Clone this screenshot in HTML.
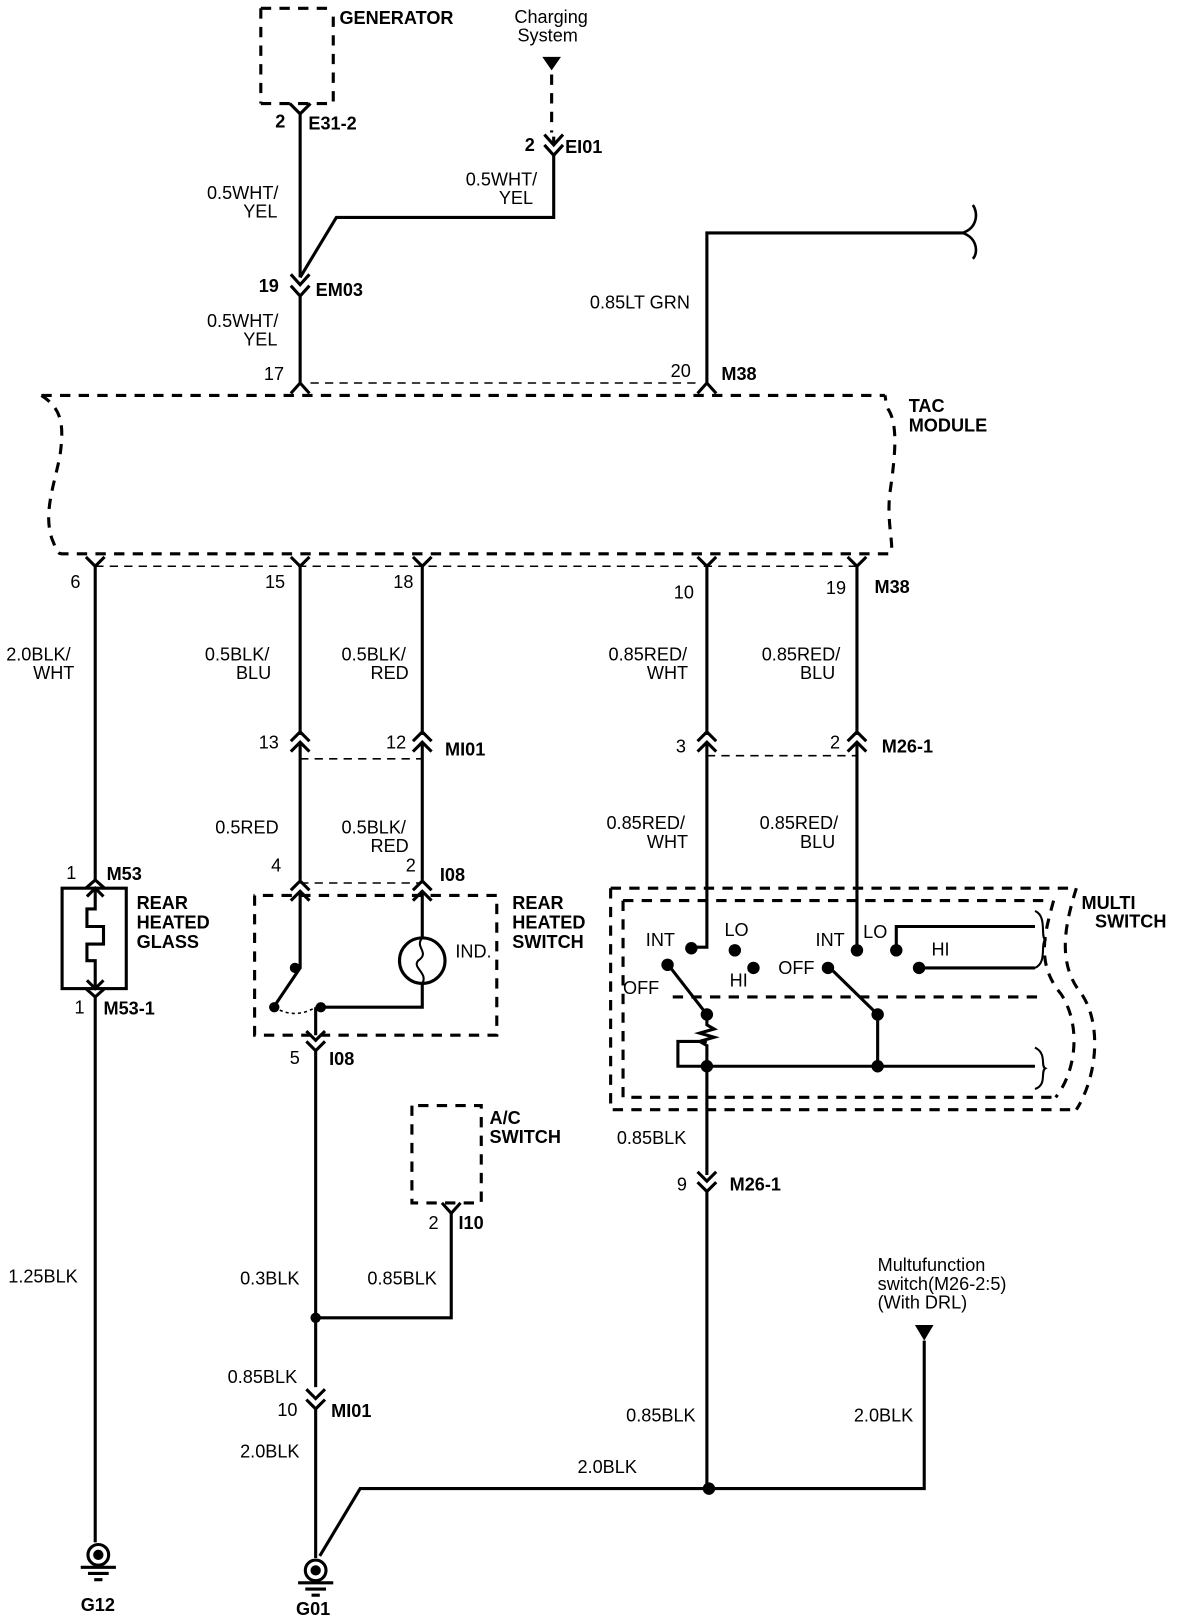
<!DOCTYPE html>
<html><head><meta charset="utf-8"><style>
html,body{margin:0;padding:0;background:#fff}
svg{display:block}
text{font-family:"Liberation Sans",sans-serif;font-size:17.5px;fill:#000}
.b{font-weight:bold}
</style></head><body>
<svg width="1184" height="1618" viewBox="0 0 1144 1563" preserveAspectRatio="none" xmlns="http://www.w3.org/2000/svg">
<g fill="none" stroke="#000" stroke-width="3">
<path d="M252 8V100M252 100H322V8M252 8H322" stroke-dasharray="10,8"/>
<path d="M280 100L290 110L300 100M290 110V268"/>
<path d="M533 72V128" stroke-dasharray="10,8"/>
<path d="M526 130L535 140L544 130M526 140L535 150L544 140M535 132V140M535 150V210H325L290 268"/>
<path d="M281 265L290 275L299 265M281 276L290 286L299 276M290 286V370"/>
<path d="M281 380L290 370L299 380M674 380L683 370L692 380"/>
<path d="M683 370V225H930"/>
<path d="M930 225C945 220 945 205 940 198M930 225C945 230 945 245 940 250" stroke-width="2.5"/>
<path d="M40 382H855" stroke-dasharray="10,8"/>
<path d="M300 370H674" stroke-width="1.5" stroke-dasharray="8,6"/>
<path d="M40 382C60 395 62 410 58 440C52 470 42 495 50 520C55 532 55 535 60 535H860C865 530 856 505 860 475C865 440 868 410 858 395C855 388 856 384 855 382" stroke-dasharray="10,8"/>
<path d="M92 547H828" stroke-width="1.5" stroke-dasharray="8,6"/>
<path d="M83 538L92 547L101 538M281 538L290 547L299 538M399 538L408 547L417 538M674 538L683 547L692 538M819 538L828 547L837 538"/>
<path d="M92 547V850M83 858L92 850L101 858M92 962V1490"/>
<rect x="60" y="858" width="62" height="97"/>
<path d="M84 866L92 858L100 866M92 858V878H84V895H100V912H84V928H92V955M84 947L92 955L100 947M83 955L92 963L101 955"/>
<path d="M290 547V710M281 716L290 707L299 716M281 726L290 717L299 726M290 717V850M281 860L290 851L299 860M281 870L290 861L299 870M290 861V935L265 972"/>
<path d="M408 547V710M399 716L408 707L417 716M399 726L408 717L417 726M408 717V850M399 860L408 851L417 860M399 870L408 861L417 870M408 861V906M408 950V973H305"/>
<path d="M290 733H408M290 853H408M683 730H828" stroke-width="1.5" stroke-dasharray="8,6"/>
<circle cx="408" cy="928" r="22"/>
<path d="M408 906C400 915 416 920 404 928C398 935 414 940 408 950" stroke-width="2"/>
<path d="M265 973Q285 985 305 973" stroke-width="1.5" stroke-dasharray="3,3"/>
<path d="M246 865V1000H480V865H245" stroke-dasharray="10,8"/>
<path d="M305 973V1000M296 996L305 1005L314 996M296 1006L305 1015L314 1006M305 1015V1340"/>
<path d="M305 1273H436V1172M427 1162L436 1172L445 1162"/>
<path d="M398 1068V1162H465V1068H398" stroke-dasharray="10,8"/>
<path d="M296 1342L305 1351L314 1342M296 1352L305 1361L314 1352M305 1361V1505M309 1503L348 1438H893V1295"/>
<path d="M683 547V710M674 716L683 707L692 716M674 726L683 717L692 726M683 717V915H670"/>
<path d="M828 547V710M819 716L828 707L837 716M819 726L828 717L837 726M828 717V918"/>
<path d="M590 858H1040M590 858V1072H1040" stroke-dasharray="10,8"/>
<path d="M1040 858C1030 890 1020 930 1045 960C1065 990 1060 1040 1040 1072" stroke-dasharray="10,8"/>
<path d="M602 870H1010M602 870V1060H1020M650 963H1005" stroke-dasharray="10,8"/>
<path d="M1018 870C1010 900 1000 930 1025 960C1045 990 1040 1035 1020 1060" stroke-dasharray="10,8"/>
<path d="M648 935L683 980V990L690 994L676 998L690 1002L676 1006L683 1010V1135M683 1006H655V1030H683"/>
<path d="M805 938L848 980V1030M683 1030H1000"/>
<path d="M866 918V895H1000M888 935H1000"/>
<path d="M1000 880C1012 885 1005 905 1010 908C1005 912 1012 930 1000 935M1000 1012C1012 1018 1005 1030 1010 1032C1005 1035 1012 1048 1000 1052" stroke-width="2"/>
<path d="M674 1132L683 1141L692 1132M674 1142L683 1151L692 1142M683 1151V1438"/>
</g>
<g fill="#000">
<path d="M524 55H542L533 68Z"/><path d="M884 1280H902L893 1295Z"/>
<circle cx="285" cy="935" r="5"/><circle cx="265" cy="973" r="5"/><circle cx="310" cy="973" r="5"/>
<circle cx="305" cy="1273" r="5"/><circle cx="685" cy="1438" r="6"/>
<circle cx="668" cy="916" r="6"/><circle cx="710" cy="918" r="6"/><circle cx="728" cy="935" r="6"/><circle cx="645" cy="932" r="6"/>
<circle cx="683" cy="980" r="6"/><circle cx="683" cy="1030" r="6"/><circle cx="848" cy="980" r="6"/><circle cx="848" cy="1030" r="6"/>
<circle cx="828" cy="918" r="6"/><circle cx="866" cy="918" r="6"/><circle cx="888" cy="935" r="6"/><circle cx="800" cy="935" r="6"/>
</g>
<g fill="none" stroke="#000" stroke-width="3">
<circle cx="95" cy="1502" r="10"/><circle cx="305" cy="1517" r="10"/>
<path d="M78 1514H112M85 1520H105M91 1526H99M288 1529H322M295 1535H315M301 1541H309"/>
</g>
<circle cx="95" cy="1502" r="5"/><circle cx="305" cy="1517" r="5"/>
<g class="b">
<text x="328" y="23">GENERATOR</text>
<text x="266" y="123">2</text><text x="298" y="125">E31-2</text>
<text x="507" y="146">2</text><text x="546" y="148">EI01</text>
<text x="250" y="282">19</text><text x="305" y="286">EM03</text>
<text x="878" y="398">TAC</text><text x="878" y="417">MODULE</text>
<text x="697" y="367">M38</text><text x="845" y="573">M38</text>
<text x="103" y="850">M53</text><text x="100" y="980">M53-1</text>
<text x="132" y="878">REAR</text><text x="132" y="897">HEATED</text><text x="132" y="916">GLASS</text>
<text x="430" y="730">MI01</text><text x="425" y="851">I08</text>
<text x="495" y="878">REAR</text><text x="495" y="897">HEATED</text><text x="495" y="916">SWITCH</text>
<text x="318" y="1029">I08</text>
<text x="473" y="1086">A/C</text><text x="473" y="1104">SWITCH</text><text x="443" y="1187">I10</text>
<text x="320" y="1369">MI01</text>
<text x="852" y="727">M26-1</text><text x="705" y="1150">M26-1</text>
<text x="1045" y="878">MULTI</text><text x="1058" y="896">SWITCH</text>
<text x="78" y="1556">G12</text><text x="286" y="1560">G01</text>
</g>
<g>
<text x="497" y="22">Charging</text><text x="500" y="40">System</text>
<text x="200" y="192">0.5WHT/</text><text x="235" y="210">YEL</text>
<text x="450" y="179">0.5WHT/</text><text x="482" y="197">YEL</text>
<text x="200" y="316">0.5WHT/</text><text x="235" y="334">YEL</text>
<text x="255" y="367">17</text><text x="648" y="364">20</text>
<text x="570" y="298">0.85LT GRN</text>
<text x="68" y="568">6</text><text x="256" y="568">15</text><text x="380" y="568">18</text><text x="651" y="578">10</text><text x="798" y="574">19</text>
<text x="6" y="638">2.0BLK/</text><text x="32" y="656">WHT</text>
<text x="198" y="638">0.5BLK/</text><text x="228" y="656">BLU</text>
<text x="330" y="638">0.5BLK/</text><text x="358" y="656">RED</text>
<text x="588" y="638">0.85RED/</text><text x="625" y="656">WHT</text>
<text x="736" y="638">0.85RED/</text><text x="773" y="656">BLU</text>
<text x="250" y="723">13</text><text x="373" y="723">12</text><text x="653" y="727">3</text><text x="802" y="723">2</text>
<text x="208" y="805">0.5RED</text>
<text x="330" y="805">0.5BLK/</text><text x="358" y="823">RED</text>
<text x="586" y="801">0.85RED/</text><text x="625" y="819">WHT</text>
<text x="734" y="801">0.85RED/</text><text x="773" y="819">BLU</text>
<text x="64" y="849">1</text><text x="262" y="842">4</text><text x="392" y="842">2</text><text x="72" y="979">1</text>
<text x="440" y="925">IND.</text>
<text x="280" y="1028">5</text><text x="414" y="1187">2</text>
<text x="624" y="914">INT</text><text x="700" y="904">LO</text><text x="705" y="953">HI</text><text x="602" y="960">OFF</text>
<text x="788" y="914">INT</text><text x="834" y="906">LO</text><text x="900" y="923">HI</text><text x="752" y="941">OFF</text>
<text x="596" y="1105">0.85BLK</text><text x="654" y="1150">9</text>
<text x="8" y="1239">1.25BLK</text><text x="232" y="1241">0.3BLK</text><text x="355" y="1241">0.85BLK</text>
<text x="848" y="1228">Multufunction</text><text x="848" y="1246">switch(M26-2:5)</text><text x="848" y="1264">(With DRL)</text>
<text x="220" y="1336">0.85BLK</text><text x="268" y="1368">10</text>
<text x="605" y="1373">0.85BLK</text><text x="825" y="1373">2.0BLK</text>
<text x="232" y="1408">2.0BLK</text><text x="558" y="1423">2.0BLK</text>
</g>
</svg>
</body></html>
